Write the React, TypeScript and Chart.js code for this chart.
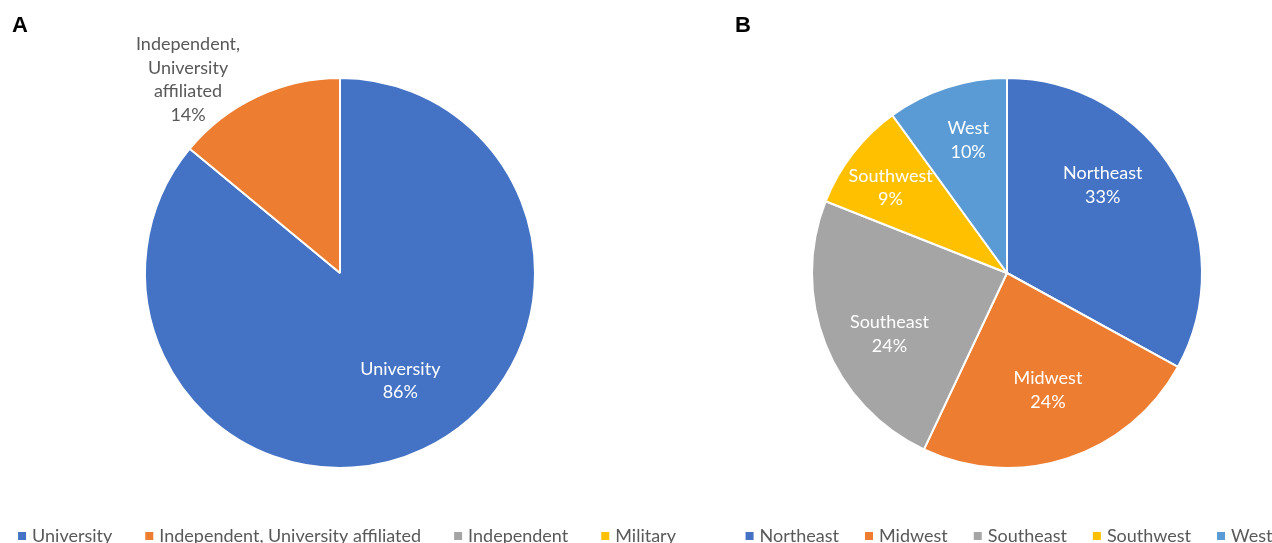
import React, { useEffect, useRef } from "react";
import { Chart, registerables } from "chart.js";

Chart.register(...registerables);

// Panel A data
const typeLabels = ["University", "Independent, University affiliated", "Independent", "Military"];
const typeValues = [86, 14, 0, 0];
const typeSliceText = [["University", "86%"], ["Independent,", "University", "affiliated", "14%"], [], []];

// Panel B data
const regionLabels = ["Northeast", "Midwest", "Southeast", "Southwest", "West"];
const regionValues = [33, 24, 24, 9, 10];
const regionSliceText = [["Northeast", "33%"], ["Midwest", "24%"], ["Southeast", "24%"], ["Southwest", "9%"], ["West", "10%"]];

const typeColors = ["#4472C4", "#ED7D31", "#A5A5A5", "#FFC000"];
const regionColors = ["#4472C4", "#ED7D31", "#A5A5A5", "#FFC000", "#5B9BD5"];

const FONT = "Lato, 'Open Sans', sans-serif";

const sliceLabelPlugin = {
  id: "sliceLabels",
  afterDatasetsDraw(chart: any, _args: any, opts: any) {
    const ctx = chart.ctx;
    const meta = chart.getDatasetMeta(0);
    const texts: string[][] = opts.texts || [];
    const place: { f: number; shift: number; color: string }[] = opts.place || [];
    ctx.save();
    ctx.font = `${opts.fontSize || 16}px ${FONT}`;
    ctx.textAlign = "center";
    ctx.textBaseline = "middle";
    meta.data.forEach((arc: any, i: number) => {
      const lines = texts[i];
      if (!lines || !lines.length) return;
      const p = arc.getProps(["x", "y", "startAngle", "endAngle", "outerRadius"], true);
      const pl = place[i] || { f: 0.68, shift: 0, color: "#fff" };
      const a = (p.startAngle + p.endAngle) / 2 + (pl.shift * Math.PI) / 180;
      const r = p.outerRadius * pl.f;
      const cx = p.x + Math.cos(a) * r;
      const cy = p.y + Math.sin(a) * r;
      const lh = opts.lineHeight || 23;
      const y0 = cy - ((lines.length - 1) * lh) / 2;
      ctx.fillStyle = pl.color;
      lines.forEach((t, k) => ctx.fillText(t, cx, y0 + k * lh));
    });

    // custom legend, centred under the pie
    const lg = opts.legend;
    if (lg) {
      const labels: string[] = chart.data.labels;
      const colors: string[] = chart.data.datasets[0].backgroundColor;
      ctx.font = `${lg.fontSize}px ${FONT}`;
      ctx.textAlign = "left";
      ctx.textBaseline = "middle";
      const widths = labels.map((l) => lg.box + lg.boxGap + ctx.measureText(l).width);
      const total = widths.reduce((s, w) => s + w, 0) + lg.gap * (labels.length - 1);
      const cx = meta.data[0].x + (lg.offset || 0);
      let x = cx - total / 2;
      labels.forEach((l, i) => {
        ctx.fillStyle = colors[i];
        ctx.fillRect(x, lg.y - lg.box / 2, lg.box, lg.box);
        ctx.fillStyle = "#595959";
        ctx.fillText(l, x + lg.box + lg.boxGap, lg.y);
        x += widths[i] + lg.gap;
      });
    }
    ctx.restore();
  },
};

function PieChart(props: any) {
  const ref = useRef<HTMLCanvasElement>(null);
  useEffect(() => {
    const chart = new Chart(ref.current as HTMLCanvasElement, {
      type: "pie",
      data: {
        labels: props.labels,
        datasets: [
          {
            data: props.values,
            backgroundColor: props.colors,
            borderColor: "#ffffff",
            borderWidth: 2,
            radius: 195,
          } as any,
        ],
      },
      options: {
        animation: false,
        responsive: false,
        maintainAspectRatio: false,
        layout: { padding: 0 },
        plugins: {
          tooltip: { enabled: false },
          legend: { display: false },
          sliceLabels: {
            texts: props.texts,
            place: props.place,
            fontSize: 18,
            lineHeight: 23.5,
            legend: { fontSize: 18, box: 8, boxGap: 6, gap: props.legendGap, offset: props.legendOffset, y: 536 },
          },
        } as any,
      },
      plugins: [sliceLabelPlugin],
    });
    return () => chart.destroy();
  }, []);
  return <canvas ref={ref} width={props.w} height={546} style={{ display: "block" }} />;
}

export default function App() {
  const labelStyle: React.CSSProperties = {
    position: "absolute",
    top: 12,
    fontFamily: "'Liberation Sans', Arial, sans-serif",
    fontWeight: "bold",
    fontSize: 22,
    color: "#000",
  };
  return (
    <div style={{ position: "fixed", left: 0, top: 0, width: 1272, height: 543, overflow: "hidden", background: "#fff" }}>
      <div style={{ position: "absolute", left: -20, top: 0 }}>
        <PieChart
          labels={typeLabels}
          values={typeValues}
          colors={typeColors}
          texts={typeSliceText}
          place={[
            { f: 0.634, shift: -4, color: "#ffffff" },
            { f: 1.26, shift: -13, color: "#595959" },
          ]}
          legendGap={33}
          legendOffset={7}
          w={720}
        />
      </div>
      <div style={{ position: "absolute", left: 700, top: 0 }}>
        <PieChart
          labels={regionLabels}
          values={regionValues}
          colors={regionColors}
          texts={regionSliceText}
          place={[
            { f: 0.667, shift: -12, color: "#ffffff" },
            { f: 0.636, shift: -1.3, color: "#ffffff" },
            { f: 0.68, shift: -6, color: "#ffffff" },
            { f: 0.74, shift: -1.6, color: "#ffffff" },
            { f: 0.71, shift: 1.7, color: "#ffffff" },
          ]}
          legendGap={26}
          legendOffset={2}
          w={614}
        />
      </div>
      <div style={{ ...labelStyle, left: 12 }}>A</div>
      <div style={{ ...labelStyle, left: 735 }}>B</div>
    </div>
  );
}
